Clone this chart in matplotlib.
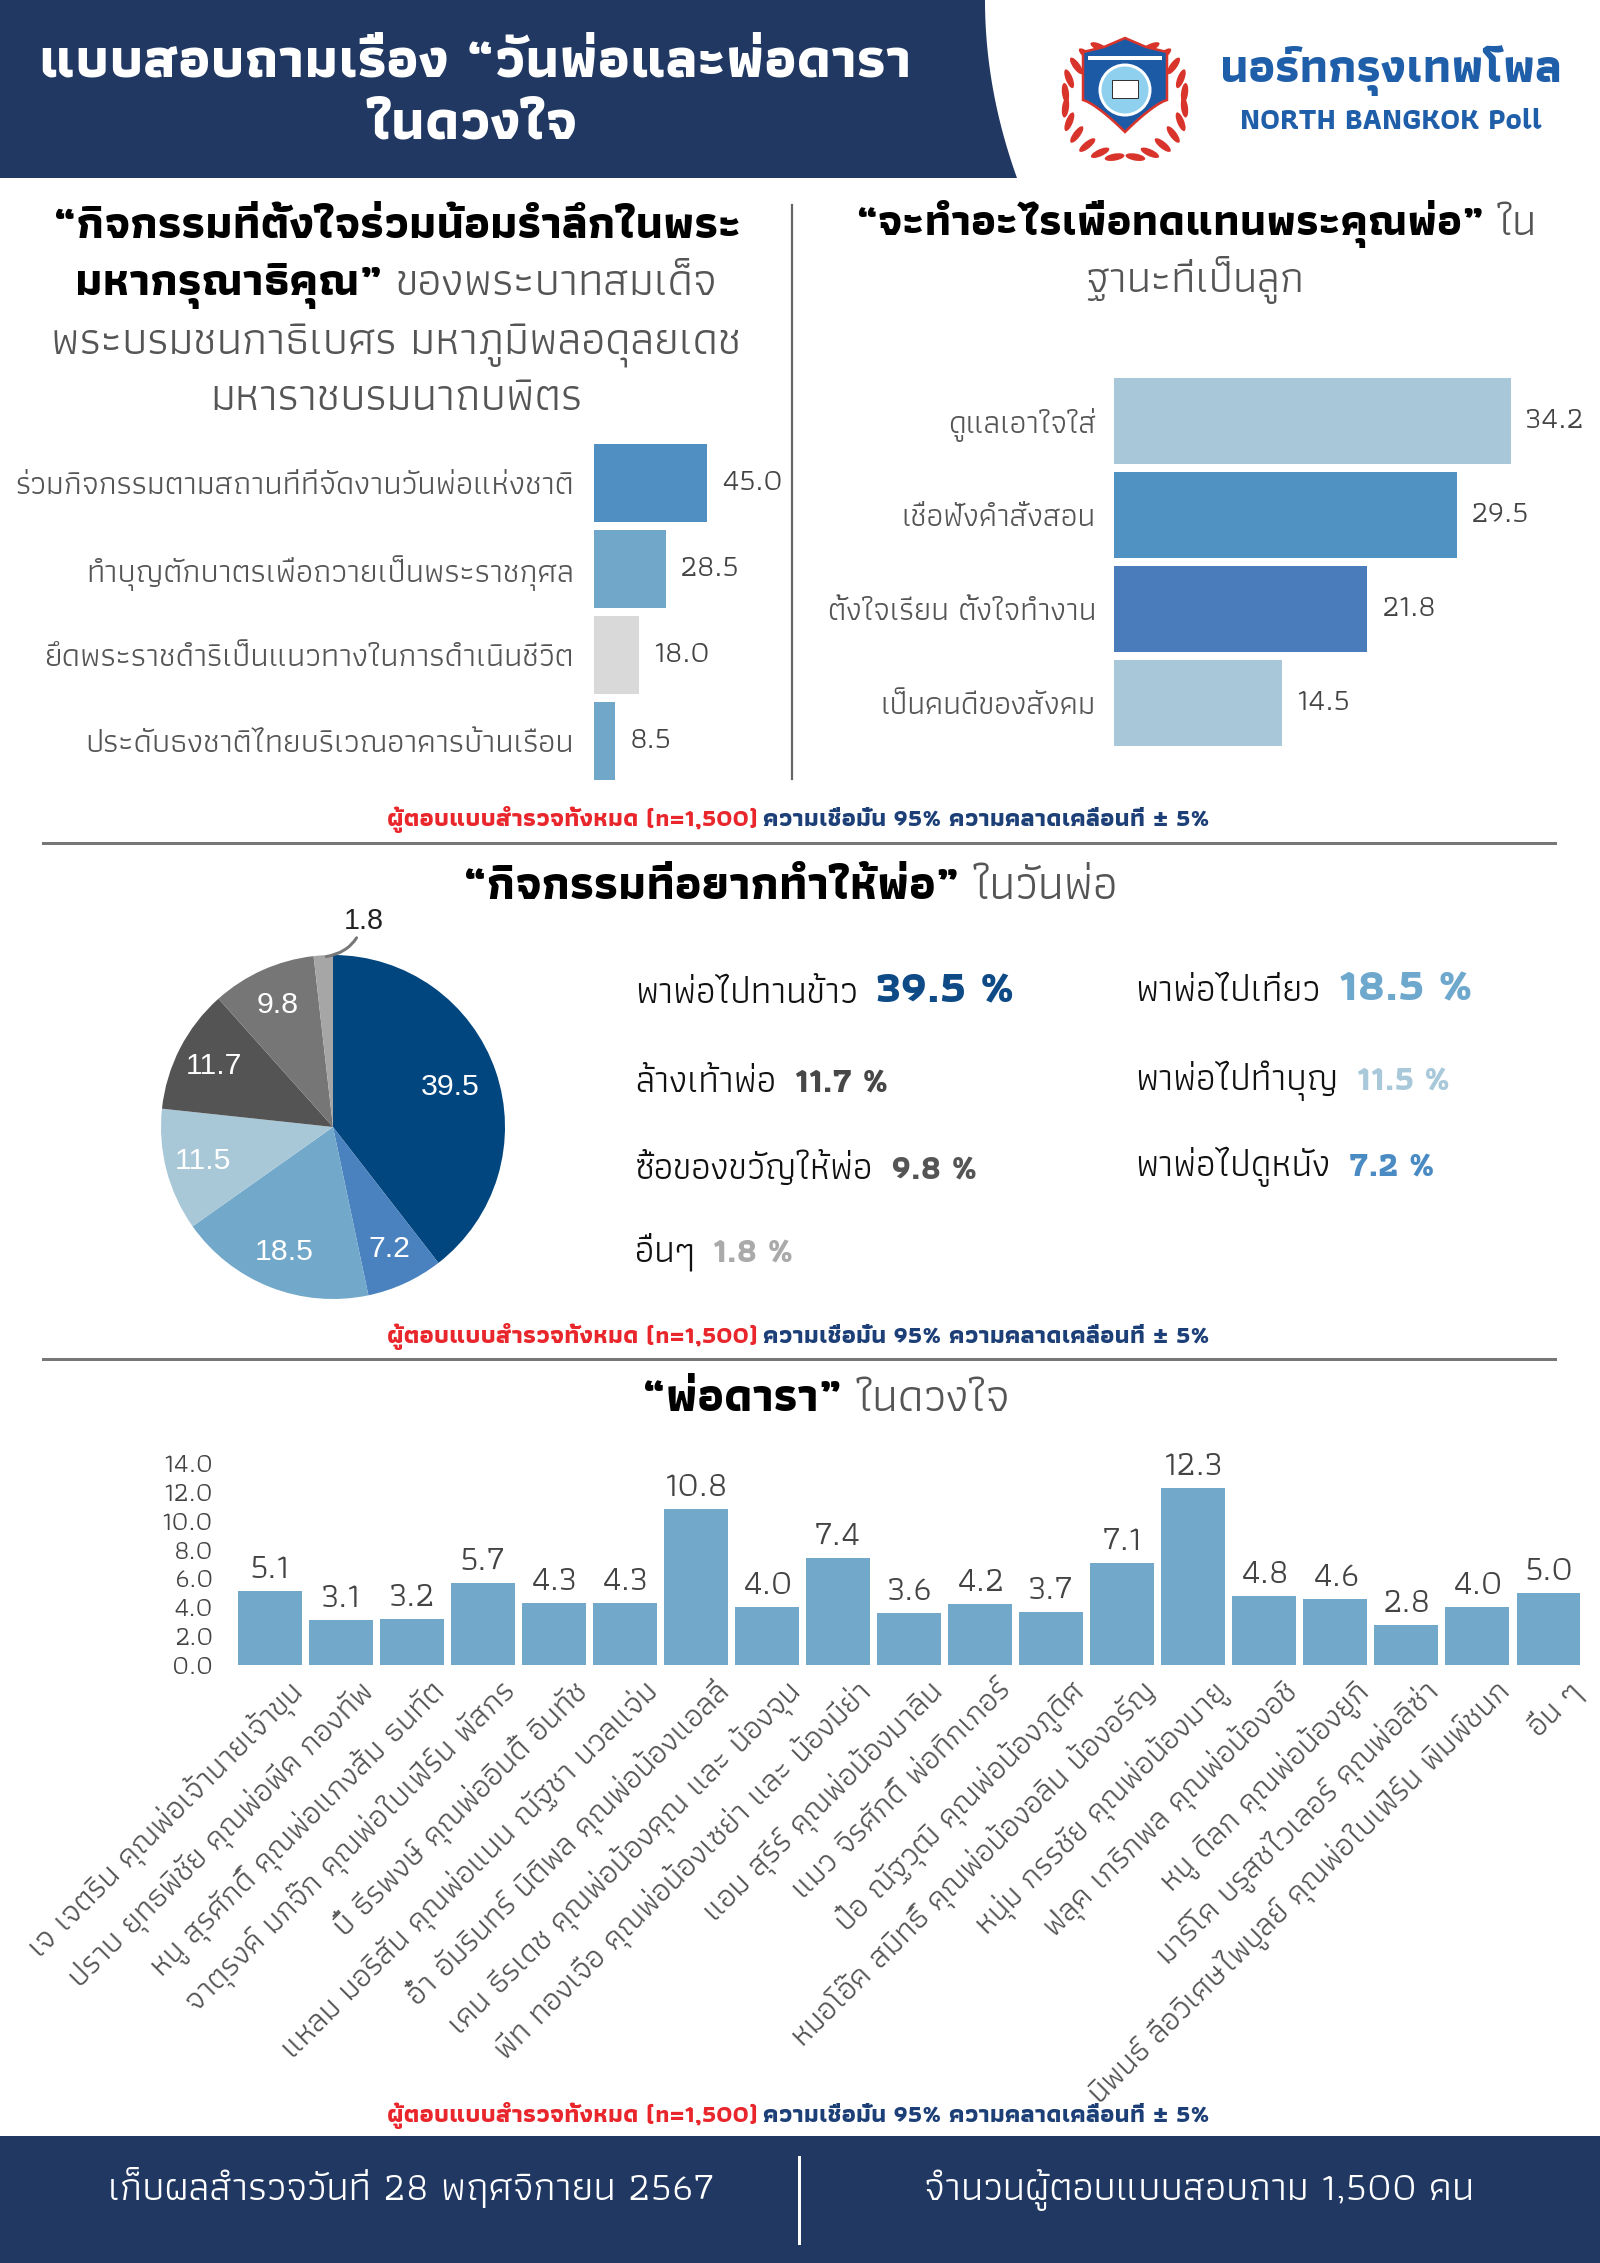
import matplotlib
matplotlib.use("Agg")
import matplotlib.pyplot as plt
from matplotlib import font_manager as fm
from matplotlib.patches import Polygon, Circle, Ellipse, Rectangle
from matplotlib.transforms import ScaledTranslation
import numpy as np

W, H, DPI = 1600, 2263, 100

# ---------------- data ----------------
left_categories = ["ร่วมกิจกรรมตามสถานที่ที่จัดงานวันพ่อแห่งชาติ",
                   "ทำบุญตักบาตรเพื่อถวายเป็นพระราชกุศล",
                   "ยึดพระราชดำริเป็นแนวทางในการดำเนินชีวิต",
                   "ประดับธงชาติไทยบริเวณอาคารบ้านเรือน"]
left_values = [45.0, 28.5, 18.0, 8.5]
left_colors = ["#4f8fc1", "#71a8c9", "#d9d9d9", "#71a8c9"]

right_categories = ["ดูแลเอาใจใส่", "เชื่อฟังคำสั่งสอน", "ตั้งใจเรียน ตั้งใจทำงาน", "เป็นคนดีของสังคม"]
right_values = [34.2, 29.5, 21.8, 14.5]
right_colors = ["#a8c8d9", "#5093c3", "#4a7bbb", "#a8c8d9"]

pie_labels = ["พาพ่อไปทานข้าว", "พาพ่อไปดูหนัง", "พาพ่อไปเที่ยว", "พาพ่อไปทำบุญ",
              "ล้างเท้าพ่อ", "ซื้อของขวัญให้พ่อ", "อื่นๆ"]
pie_values = [39.5, 7.2, 18.5, 11.5, 11.7, 9.8, 1.8]
pie_colors = ["#02467f", "#4a82bf", "#72a8c9", "#a8c8d8", "#545454", "#767676", "#a6a6a6"]
legend_colors = ["#0e4a86", "#4a8bc4", "#6fa8cd", "#a9c9da", "#474747", "#555555", "#aaaaaa"]

star_names = ["เจ เจตริน คุณพ่อเจ้านายเจ้าขุน",
              "ปราบ ยุทธพิชัย คุณพ่อพีค กองทัพ",
              "หนู สุรศักดิ์ คุณพ่อแกงส้ม ธนทัต",
              "จาตุรงค์ มกจ๊ก คุณพ่อใบเฟิร์น พัสกร",
              "บี๋ ธีรพงษ์ คุณพ่ออินดี้ อินทัช",
              "แหลม มอริสัน คุณพ่อแนน ณัฐชา นวลแจ่ม",
              "อ๋ำ อัมรินทร์ นิติพล คุณพ่อน้องแอลลี่",
              "เคน ธีรเดช คุณพ่อน้องคุณ และ น้องจุน",
              "พีท ทองเจือ คุณพ่อน้องเซย่า และ น้องมีย่า",
              "แอม สุรีร์ คุณพ่อน้องมาลิน",
              "แมว จิรศักดิ์ พ่อทิกเกอร์",
              "ป๋อ ณัฐวุฒิ คุณพ่อน้องภูดิศ",
              "หมอโอ๊ค สมิทธิ์ คุณพ่อน้องอลิน น้องอรัญ",
              "หนุ่ม กรรชัย คุณพ่อน้องมายู",
              "ฟลุค เกริกพล คุณพ่อน้องอชิ",
              "หนู ดิลก คุณพ่อน้องยูกิ",
              "มาร์โค บรูสชไวเลอร์ คุณพ่อลิซ่า",
              "นิพนธ์ ลือวิเศษไพบูลย์ คุณพ่อใบเฟิร์น พิมพ์ชนก",
              "อื่น ๆ"]
star_values = [5.1, 3.1, 3.2, 5.7, 4.3, 4.3, 10.8, 4.0, 7.4, 3.6, 4.2, 3.7, 7.1, 12.3, 4.8, 4.6, 2.8, 4.0, 5.0]
star_yticks = [0.0, 2.0, 4.0, 6.0, 8.0, 10.0, 12.0, 14.0]

# ---------------- fonts ----------------
avail = {f.name for f in fm.fontManager.ttflist}
def pick(cands):
    for c in cands:
        if c in avail:
            return c
    return "DejaVu Sans"

THAI = pick(["Athiti", "Kanit", "Prompt", "IBM Plex Sans Thai", "Noto Sans Thai", "Sarabun"])
LATIN = pick(["Liberation Sans", "Arimo", "DejaVu Sans"])
plt.rcParams["font.family"] = [THAI, "DejaVu Sans"]

NAVY = "#213863"
GRAY = "#555555"
RED = "#e8262b"
FN_NAVY = "#1c3f77"

fig = plt.figure(figsize=(W / DPI, H / DPI), dpi=DPI)
fig.patch.set_facecolor("white")
R = fig.canvas.get_renderer()
PX = 72.0 / DPI  # points per pixel


def measure(s, size, **kw):
    t = fig.text(0, 0, s, fontsize=size, **kw)
    w = t.get_window_extent(R).width
    t.remove()
    return w


def fit(s, target_px, **kw):
    return 20.0 * target_px / measure(s, 20.0, **kw)


def rich(x, y, segs, ha="center", width=None, size=None, gap_em=0.28, zorder=5):
    """segs: list of (text, rel_size, props). y = visual centre (px from top)."""
    def widths(sz):
        ws = [measure(s, sz * r, **p) for s, r, p in segs]
        gap = gap_em * sz / PX
        return ws, sum(ws) + gap * (len(segs) - 1), gap
    if size is None:
        _, tot, _ = widths(20.0)
        size = 20.0 * width / tot
    ws, tot, gap = widths(size)
    if ha == "center":
        x0 = x - tot / 2
    elif ha == "left":
        x0 = x
    else:
        x0 = x - tot
    base = y + 0.26 * size / PX
    for (s, r, p), w in zip(segs, ws):
        fig.text(x0 / W, 1 - base / H, s, fontsize=size * r, ha="left", va="baseline", zorder=zorder, **p)
        x0 += w + gap
    return size


def add_ax(left, top, width, height, **kw):
    return fig.add_axes([left / W, 1 - (top + height) / H, width / W, height / H], **kw)


# ---------------- background shapes ----------------
bg = add_ax(0, 0, W, H)
bg.set_xlim(0, W)
bg.set_ylim(H, 0)
bg.axis("off")
bg.set_zorder(-5)

tt = np.linspace(0, 1, 30)
edge = list(zip(985 + 32 * tt ** 2, 178 * tt))
bg.add_patch(Polygon([(0, 0)] + edge + [(0, 178)], closed=True, facecolor=NAVY, edgecolor="none"))
bg.add_patch(Rectangle((0, 2136), W, H - 2136, facecolor=NAVY, edgecolor="none"))
bg.plot([799, 799], [2157, 2243], color="white", lw=3 * PX)
bg.plot([43, 1555], [843, 843], color="#777777", lw=3 * PX)
bg.plot([43, 1555], [1359, 1359], color="#777777", lw=3 * PX)
bg.plot([792, 792], [205, 779], color="#666666", lw=2.2 * PX)

# logo (simplified emblem)
cx, cy = 1125, 92
for side in (-1, 1):
    for a in np.linspace(100, 245, 11):
        ang = np.deg2rad(a)
        px_ = cx + side * 60 * np.cos(ang) * -1
        py_ = cy + 8 - 58 * np.sin(ang) * -1
        rot = (a + 90) if side == 1 else -(a + 90)
        bg.add_patch(Ellipse((px_, py_), 20, 7, angle=rot, facecolor="#d9342b", edgecolor="none"))
sh = [(1083, 52), (1104, 47), (1125, 38), (1146, 47), (1167, 52), (1167, 100)]
sh += [(1167 - 42 * t, 100 + 32 * t ** 1.3) for t in np.linspace(0, 1, 12)]
sh += [(1125 - 42 * t, 132 - 32 * (1 - (1 - t) ** 1.3)) for t in np.linspace(0, 1, 12)]
bg.add_patch(Polygon(sh, closed=True, facecolor="#1d5aa6", edgecolor="#d9342b", lw=2.5 * PX))
bg.add_patch(Circle((1125, 90), 25, facecolor="#8fd0ee", edgecolor="white", lw=3 * PX))
bg.add_patch(Rectangle((1112, 80), 26, 18, facecolor="white", edgecolor="#333333", lw=1 * PX))
bg.plot([1090, 1160], [58, 58], color="white", lw=4 * PX)

# ---------------- header texts ----------------
hsz = rich(475, 62, [("แบบสอบถามเรื่อง “วันพ่อและพ่อดารา", 1, dict(weight="bold", color="white"))], width=870)
rich(472, 124, [("ในดวงใจ", 1, dict(weight="bold", color="white"))], size=hsz)
rich(1220, 70, [("นอร์ทกรุงเทพโพล", 1, dict(weight="bold", color="#1f5ea8"))], ha="left", width=341)
rich(1240, 121, [("NORTH BANGKOK Poll", 1, dict(weight="bold", color="#1f5ea8"))], ha="left", width=301)

# ---------------- section 1: left ----------------
BOLD = dict(weight="bold", color="black")
REG = dict(color=GRAY)
tsz = rich(397, 226, [("“กิจกรรมที่ตั้งใจร่วมน้อมรำลึกในพระ", 1, BOLD)], width=686)
rich(396, 283, [("มหากรุณาธิคุณ”", 1, BOLD), ("ของพระบาทสมเด็จ", 1, REG)], size=tsz)
rich(396, 343, [("พระบรมชนกาธิเบศร มหาภูมิพลอดุลยเดช", 1, REG)], size=tsz)
rich(396, 398, [("มหาราชบรมนาถบพิตร", 1, REG)], size=tsz)

lab_sz = fit(left_categories[0], 560)
ax1 = add_ax(594, 440, 200, 344)
b1 = ax1.barh(range(len(left_values)), left_values, height=0.9, color=left_colors)
ax1.set_ylim(len(left_values) - 0.5, -0.5)
ax1.set_xlim(0, 200 / 2.51)
ax1.set_yticks(range(len(left_categories)))
ax1.set_yticklabels(left_categories, fontsize=lab_sz, color=GRAY)
ax1.tick_params(axis="y", length=0, pad=20 * PX)
ax1.set_xticks([])
for s in ax1.spines.values():
    s.set_visible(False)
ax1.patch.set_alpha(0)
val_sz = fit("45.0", 62)
ax1.bar_label(b1, fmt="%.1f", padding=14 * PX, fontsize=val_sz, color="#444444")

# ---------------- section 1: right ----------------
rsz = rich(1196, 224, [("“จะทำอะไรเพื่อทดแทนพระคุณพ่อ”", 1, BOLD), ("ใน", 1, REG)], width=681)
rich(1195, 281, [("ฐานะที่เป็นลูก", 1, REG)], size=rsz)

rlab_sz = fit(right_categories[2], 269)
ax2 = add_ax(1114, 374, 450, 376)
b2 = ax2.barh(range(len(right_values)), right_values, height=0.92, color=right_colors)
ax2.set_ylim(len(right_values) - 0.5, -0.5)
ax2.set_xlim(0, 450 / 11.62)
ax2.set_yticks(range(len(right_categories)))
ax2.set_yticklabels(right_categories, fontsize=rlab_sz, color=GRAY)
ax2.tick_params(axis="y", length=0, pad=18 * PX)
ax2.set_xticks([])
for s in ax2.spines.values():
    s.set_visible(False)
ax2.patch.set_alpha(0)
ax2.bar_label(b2, fmt="%.1f", padding=14 * PX, fontsize=val_sz, color="#444444")

# ---------------- footnotes ----------------
FN = [("ผู้ตอบแบบสำรวจทั้งหมด (n=1,500)", 1, dict(weight="bold", color=RED)),
      ("ความเชื่อมั่น 95% ความคลาดเคลื่อนที่ ± 5%", 1, dict(weight="bold", color=FN_NAVY))]
fsz = rich(798, 819, FN, width=821, gap_em=0.22)
rich(798, 1336, FN, size=fsz, gap_em=0.22)
rich(798, 2115, FN, size=fsz, gap_em=0.22)

# ---------------- section 2: pie ----------------
rich(790, 887, [("“กิจกรรมที่อยากทำให้พ่อ”", 1, BOLD), ("ในวันพ่อ", 1, REG)], width=653)

PR = 172
axp = add_ax(333 - PR, 1127 - PR, 2 * PR, 2 * PR)
wedges, _ = axp.pie(pie_values, colors=pie_colors, startangle=90, counterclock=False,
                    radius=1, wedgeprops=dict(linewidth=0))
axp.set_xlim(-1, 1)
axp.set_ylim(-1, 1)
axp.set_aspect("equal")
axp.axis("off")
pie_sz = fit("39.5", 59, family=LATIN)
for wdg, v in zip(wedges, pie_values):
    ang = np.deg2rad((wdg.theta1 + wdg.theta2) / 2)
    if v < 3:
        axp.annotate(f"{v:.1f}", xy=(0.99 * np.cos(ang), 0.99 * np.sin(ang)),
                     xytext=(20, 22), textcoords="offset pixels", ha="left", va="bottom",
                     fontsize=pie_sz * 0.95, family=LATIN, color="#222222",
                     arrowprops=dict(arrowstyle="-", color="#777777", lw=3 * PX,
                                     connectionstyle="arc3,rad=-0.35", shrinkA=0, shrinkB=2),
                     annotation_clip=False)
    else:
        rr = 0.72 if v > 30 else 0.78
        axp.text(rr * np.cos(ang), rr * np.sin(ang), f"{v:.1f}", ha="center", va="center",
                 fontsize=pie_sz, family=LATIN, color="white")

# pie legend (text list)
leg_pos = {0: (635, 993), 4: (635, 1082), 5: (635, 1169), 6: (635, 1252),
           2: (1135, 991), 3: (1135, 1080), 1: (1135, 1166)}
big = {0, 2}
leg_lab_sz = fit(pie_labels[5], 238, color="black")
num_big = fit("39.5 %", 138, weight="bold")
num_small = fit("11.7 %", 93, weight="bold")
for i, (xx, yy) in leg_pos.items():
    ns = num_big if i in big else num_small
    rich(xx, yy, [(pie_labels[i], 1, dict(color="#111111")),
                  (f"{pie_values[i]:.1f} %", ns / leg_lab_sz, dict(weight="bold", color=legend_colors[i]))],
         ha="left", size=leg_lab_sz, gap_em=0.5)

# ---------------- section 3: star bar chart ----------------
rich(826, 1399, [("“พ่อดารา”", 1, BOLD), ("ในดวงใจ", 1, REG)], width=367)

ax3 = add_ax(234, 1463, 1350, 202)
b3 = ax3.bar(range(len(star_values)), star_values, width=0.9, color="#72a8c9")
ax3.set_xlim(-0.5, len(star_values) - 0.5)
ax3.set_ylim(0, 14)
ax3.set_yticks(star_yticks)
ytick_sz = fit("14.0", 50)
ax3.set_yticklabels([f"{v:.1f}" for v in star_yticks], fontsize=ytick_sz, color="#444444")
ax3.tick_params(axis="y", length=0, pad=21 * PX)
for s in ax3.spines.values():
    s.set_visible(False)
ax3.patch.set_alpha(0)
sval_sz = fit("12.3", 60)
ax3.bar_label(b3, fmt="%.1f", padding=6 * PX, fontsize=sval_sz, color="#444444")
ax3.set_xticks(range(len(star_names)))
xl_sz = fit(star_names[0], 375)
ax3.set_xticklabels(star_names, rotation=45, ha="right", va="top", rotation_mode="anchor",
                    fontsize=xl_sz, color=GRAY)
ax3.tick_params(axis="x", length=0, pad=10 * PX)
off = ScaledTranslation(17 / DPI, 0, fig.dpi_scale_trans)
for lab in ax3.get_xticklabels():
    lab.set_transform(lab.get_transform() + off)

# ---------------- footer ----------------
rich(411, 2190, [("เก็บผลสำรวจวันที่ 28 พฤศจิกายน 2567", 1, dict(color="white"))], width=607)
rich(1199, 2190, [("จำนวนผู้ตอบแบบสอบถาม 1,500 คน", 1, dict(color="white"))], width=551)

fig.savefig("out.png", dpi=DPI, facecolor="white")
